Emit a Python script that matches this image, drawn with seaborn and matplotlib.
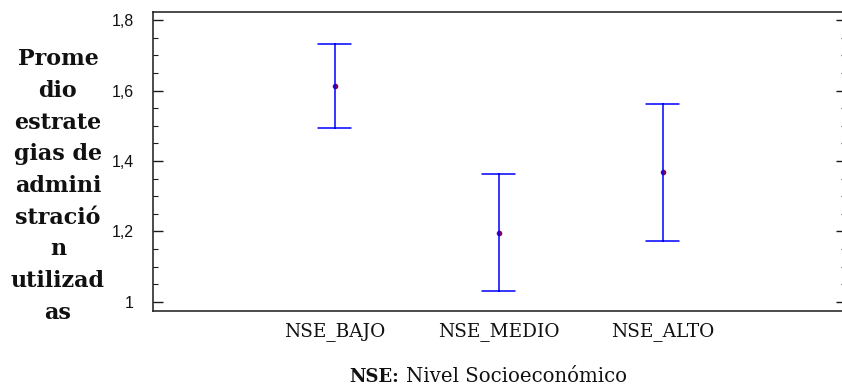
import matplotlib
matplotlib.use("Agg")
import matplotlib.pyplot as plt
import seaborn as sns
import pandas as pd
import numpy as np
from matplotlib.ticker import MultipleLocator, FuncFormatter

# Mean and interval limits of the strategy score per socioeconomic level
groups = ["NSE_BAJO", "NSE_MEDIO", "NSE_ALTO"]
means = [1.613, 1.196, 1.369]
lower = [1.494, 1.030, 1.172]
upper = [1.732, 1.363, 1.563]

rows = []
for g, lo, m, hi in zip(groups, lower, means, upper):
    for v in (lo, m, hi):
        rows.append({"grupo": g, "valor": v})
df = pd.DataFrame(rows)

sns.set_theme(style="white")
plt.rcParams["font.family"] = ["Liberation Sans", "DejaVu Sans"]
SERIF = ["DejaVu Serif", "Liberation Serif"]

fig = plt.figure(figsize=(8.42, 3.87), dpi=100)
ax = fig.add_axes([153 / 842, 76 / 387, 693 / 842, 299 / 387])

sns.pointplot(
    data=df, x="grupo", y="valor", order=groups,
    estimator="median",
    errorbar=lambda v: (v.min(), v.max()),
    capsize=0.2, linestyle="none",
    marker="o", markersize=2, color="#800060",
    err_kws={"color": "#0000ff", "linewidth": 1.1},
    ax=ax,
)

ax.set_xlim(-1.11, 3.12)
ax.set_ylim(0.974, 1.823)
ax.yaxis.set_major_locator(MultipleLocator(0.2))
ax.yaxis.set_minor_locator(MultipleLocator(0.05))
ax.yaxis.set_major_formatter(FuncFormatter(
    lambda v, p: ("%g" % round(v, 2)).replace(".", ",")))

for s in ax.spines.values():
    s.set_color("#1a1a1a")
    s.set_linewidth(1.1)

ax.tick_params(axis="y", which="major", direction="in", length=7, width=1,
               left=True, right=True, color="#1a1a1a", labelsize=11.5,
               pad=14, labelcolor="#111111")
ax.tick_params(axis="y", which="minor", direction="in", length=3.5, width=0.8,
               left=True, right=True, color="#1a1a1a")
ax.tick_params(axis="x", length=0, pad=8)
for lab in ax.get_xticklabels():
    lab.set_fontfamily(SERIF)
    lab.set_fontsize(13.3)
    lab.set_color("#111111")

ax.set_xlabel("")
ax.set_ylabel("")

fig.text(58 / 842, 1 - 186 / 387,
         "Prome\ndio\nestrate\ngias de\nadmini\nstració\nn\nutilizad\nas",
         ha="center", va="center", multialignment="center",
         fontsize=16, fontweight="bold", linespacing=1.57,
         family=SERIF, color="#111111")

fig.text(399 / 842, 1 - 377 / 387, "NSE:", ha="right", va="center",
         fontsize=13, fontweight="bold", family=SERIF, color="#111111")
fig.text(406 / 842, 1 - 377 / 387, "Nivel Socioeconómico", ha="left",
         va="center", fontsize=14.2, family=SERIF, color="#111111")

fig.savefig("out.png", dpi=100)
